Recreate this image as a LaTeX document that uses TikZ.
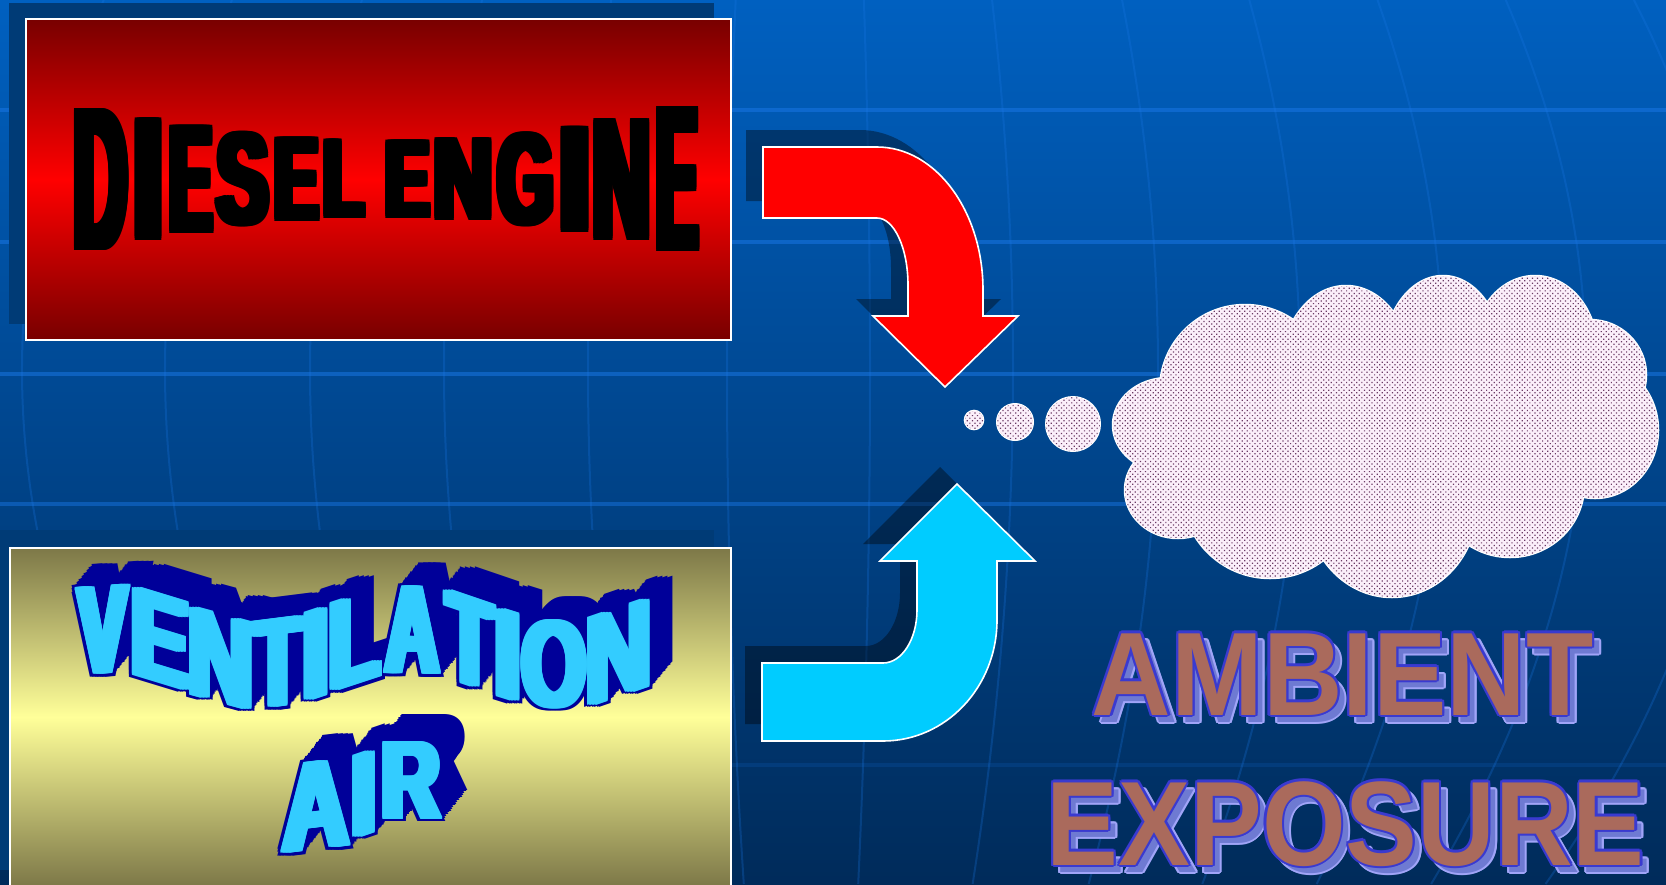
\documentclass[tikz,border=0pt]{standalone}
\usepackage{fontspec}
\usepackage{graphicx}
\usetikzlibrary{patterns.meta}
\newfontfamily\heavy{Liberation Sans}

\definecolor{bgtop}{HTML}{0060C0}
\definecolor{bgbot}{HTML}{002B5A}
\definecolor{gridblue}{HTML}{1A78E8}
\definecolor{boxshade}{HTML}{003B76}
\definecolor{redtop}{HTML}{780000}
\definecolor{olive}{HTML}{7D7848}
\definecolor{paleyellow}{HTML}{FFFF99}
\definecolor{ventcyan}{HTML}{33CCFF}
\definecolor{ventdark}{HTML}{000099}
\definecolor{arrowcyan}{HTML}{00CCFF}
\definecolor{puffbase}{HTML}{FBEFFA}
\definecolor{puffdot}{HTML}{6A3A64}
\definecolor{ambfill}{HTML}{AA6A5C}
\definecolor{ambedge}{HTML}{3A3AD0}
\definecolor{ambshade}{HTML}{6E7AD2}
\definecolor{ambshadeedge}{HTML}{A0A4F8}

% one resized glyph, centred at (x,y) and sheared by yslant
\newcommand\glyphfont{\heavy\bfseries\fontsize{100pt}{100pt}\selectfont}
\newcommand\gl[7]{%
  \begin{scope}[shift={({#2},{#3})},yslant=#4]
    \node[inner sep=0pt,outer sep=0pt,transform shape,#1] at (0,0)
      {\resizebox{#5pt}{#6pt}{\glyphfont #7}};
  \end{scope}}

% DIESEL ENGINE: x, y, box width, box height, letter
\newcommand\dieselword[1]{%
  #1{101}{179.4}{53.6}{138}{D}%
  #1{148.5}{179.3}{32}{118.6}{I}%
  #1{190.5}{179.2}{42}{104.2}{E}%
  #1{242.5}{179.1}{51.7}{90.2}{S}%
  #1{297}{179}{43.2}{80.3}{E}%
  #1{344}{179}{39.8}{75.4}{L}%
  #1{408}{179}{43.2}{74.4}{E}%
  #1{463}{179}{58.8}{78.7}{N}%
  #1{526}{179.1}{55.7}{89.5}{G}%
  #1{574.5}{179.2}{36}{102.1}{I}%
  #1{621.5}{179.3}{57.5}{117.9}{N}%
  #1{677}{179.4}{40.7}{141}{E}}
% heavy strokes: the glyph stamped over a small rectangle of offsets
\newcommand\dbold[5]{%
  \foreach \dx in {-4.5,-3,-1.5,0,1.5,3,4.5}{\foreach \dy in {-2,0,2}{%
    \gl{text=black}{#1+\dx}{#2+\dy}{0}{#3}{#4}{#5}}}}

% VENTILATION / AIR: x, y, slant, box width, box height, letter
\newcommand\ventword[1]{%
  #1{102.8}{630.3}{0.069}{48.1}{86}{V}%
  #1{160.4}{638.1}{-0.305}{58.8}{86}{E}%
  #1{220.4}{658.1}{-0.271}{65.5}{86}{N}%
  #1{278.0}{662.9}{0.126}{46}{86}{T}%
  #1{316.4}{653.7}{0.330}{28}{86}{I}%
  #1{354.8}{640.3}{0.329}{51.6}{86}{L}%
  #1{412.4}{630.0}{-0.018}{52.9}{86}{A}%
  #1{470.0}{641.8}{-0.341}{46}{86}{T}%
  #1{508.4}{655.3}{-0.313}{28}{86}{I}%
  #1{554.0}{663.9}{-0.036}{64.3}{86}{O}%
  #1{618.8}{651.9}{0.343}{65.5}{86}{N}}
\newcommand\airword[1]{%
  #1{316}{806}{0.12}{66}{86}{A}%
  #1{364}{794}{0.34}{26}{80}{I}%
  #1{411}{780}{0}{58}{76}{R}}
\newcommand\extx{1.25}
\newcommand\exty{1.5}
% solid extrusion behind the letters
\newcommand\vext[6]{%
  \foreach \k in {1,...,16}{\foreach \dx in {-7.5,-2.5,2.5,7.5}{%
    \gl{text=ventdark}{#1+\extx*\k+\dx}{#2-\exty*\k}{#3}{#4}{#5}{#6}}}}
% dark edge round the letters
\newcommand\vedge[6]{%
  \foreach \dx in {-7.5,-5,-2.5,0,2.5,5,7.5}{\foreach \dy in {-3.5,0,3.5}{%
    \gl{text=ventdark}{#1+\dx}{#2+\dy}{#3}{#4}{#5}{#6}}}}
% cyan face
\newcommand\vface[6]{%
  \foreach \dx in {-4.5,-3,-1.5,0,1.5,3,4.5}{\foreach \dy in {-1,0,1}{%
    \gl{text=ventcyan}{#1+\dx}{#2+\dy}{#3}{#4}{#5}{#6}}}}

% arrow outlines
\newcommand\redarrow{(763,147) -- (877,147) .. controls (935.5,147) and (983,211) .. (983,290)
  -- (983,316) -- (1018,316) -- (945,387) -- (873,316) -- (908,316) -- (908,285)
  .. controls (908,248) and (894,218) .. (877,218) -- (763,218) -- cycle}
\newcommand\cyanarrow{(762,741) -- (883,741) .. controls (946,741) and (997,687) .. (997,620)
  -- (997,561) -- (1035,561) -- (957,484) -- (880,561) -- (917,561) -- (917,610)
  .. controls (917,639) and (902,663) .. (883,663) -- (762,663) -- cycle}

% cloud puffs
\newcommand\cloudpath{%
  (1390,430) ellipse [x radius=200pt,y radius=110pt]
  (1168,425) ellipse [x radius=55pt,y radius=47pt]
  (1178,490) ellipse [x radius=53pt,y radius=48pt]
  (1245,390) ellipse [x radius=85pt,y radius=85pt]
  (1346,370) ellipse [x radius=65pt,y radius=84pt]
  (1443,360) ellipse [x radius=60pt,y radius=84pt]
  (1535,350) ellipse [x radius=62pt,y radius=74pt]
  (1590,375) ellipse [x radius=56pt,y radius=55pt]
  (1595,430) ellipse [x radius=63pt,y radius=68pt]
  (1510,485) ellipse [x radius=74pt,y radius=72pt]
  (1392,505) ellipse [x radius=85pt,y radius=92pt]
  (1270,490) ellipse [x radius=88pt,y radius=88pt]}

\newcommand\ambword{\scalebox{0.928}[1]{AMBIENT}}
\newcommand\expword{\scalebox{0.897}[1]{EXPOSURE}}

\begin{document}
\begin{tikzpicture}[x=1pt,y=-1pt,
  gridh/.style={draw=gridblue,line width=3.2pt},
  gridv/.style={draw=gridblue,line width=2pt,opacity=0.25},
  shapeshadow/.style={fill=black,opacity=0.38},
  panel/.style={draw=white,line width=2pt,inner sep=0pt},
  arrowbody/.style={draw=white,line width=1.6pt},
  dotfill/.style={pattern={Dots[distance=3.6pt,radius=0.85pt,angle=45]},pattern color=puffdot},
  puff/.style={draw=white,line width=1pt,preaction={fill=puffbase},dotfill},
  ambA/.style={inner sep=0pt,anchor=base,font=\heavy\bfseries\fontsize{118.7pt}{118.7pt}\selectfont},
  ambB/.style={inner sep=0pt,anchor=base,font=\heavy\bfseries\fontsize{120pt}{120pt}\selectfont}]

\useasboundingbox (0,0) rectangle (1666,884);
\clip (0,0) rectangle (1666,884);

% background and globe grid
\shade[top color=bgtop,bottom color=bgbot] (0,0) rectangle (1666,884);
\foreach \yy/\op in {110/0.5,242/0.5,374/0.5,504/0.45,765/0.15}
  \draw[gridh,opacity=\op] (0,\yy) -- (1666,\yy);
\foreach \xe in {-121,22,165,310,444,588,727,870,1013,1158,1300,1443,1586,1729}
  \draw[gridv] plot[domain=0:884,samples=30,smooth,variable=\t]
    ({\xe-(\xe-811)*(0.000866*(\t-370))^2},\t);

% panels with their shadows
\fill[boxshade] (8.5,3) rectangle (714,324);
\fill[boxshade] (-8,530) rectangle (714,870);
\node[panel,minimum width=705.5pt,minimum height=321pt,
  top color=redtop,bottom color=redtop,middle color=red] (dieselbox) at (378.25,179.5) {};
\node[panel,minimum width=720.8pt,minimum height=338pt,
  top color=olive,bottom color=olive,middle color=paleyellow] (ventbox) at (370.1,717) {};

% DIESEL ENGINE
\dieselword\dbold

% VENTILATION AIR
\ventword\vext
\renewcommand\extx{1.375}\renewcommand\exty{1.75}
\airword\vext
\ventword\vedge
\airword\vedge
\ventword\vface
\airword\vface

% curved arrows
\fill[shapeshadow,shift={(-17,-17)}] \redarrow;
\fill[shapeshadow,shift={(-17,-17)}] \cyanarrow;
\filldraw[arrowbody,fill=red] \redarrow;
\filldraw[arrowbody,fill=arrowcyan] \cyanarrow;

% thought bubbles and cloud
\node[puff,circle,minimum size=19.6pt,inner sep=0pt] (b1) at (974,420) {};
\node[puff,circle,minimum size=37pt,inner sep=0pt] (b2) at (1015,422) {};
\node[puff,circle,minimum size=55pt,inner sep=0pt] (b3) at (1073,424) {};
\draw[white,line width=2.5pt] \cloudpath;
\fill[puffbase] \cloudpath;
\fill[dotfill] \cloudpath;

% AMBIENT EXPOSURE
\foreach \a in {0,30,...,330}
  \node[ambA,text=ambshadeedge] at ({1349.7+2*cos(\a)},{722+2*sin(\a)}) {\ambword};
\node[ambA,text=ambshade] at (1349.7,722) {\ambword};
\foreach \a in {0,30,...,330}
  \node[ambA,text=ambedge] at ({1342.7+2.2*cos(\a)},{715+2.2*sin(\a)}) {\ambword};
\node[ambA,text=ambfill] (ambient) at (1342.7,715) {\ambword};

\foreach \a in {0,30,...,330}
  \node[ambB,text=ambshadeedge] at ({1352.7+2*cos(\a)},{872+2*sin(\a)}) {\expword};
\node[ambB,text=ambshade] at (1352.7,872) {\expword};
\foreach \a in {0,30,...,330}
  \node[ambB,text=ambedge] at ({1345.7+2.2*cos(\a)},{865+2.2*sin(\a)}) {\expword};
\node[ambB,text=ambfill] (exposure) at (1345.7,865) {\expword};
\end{tikzpicture}
\end{document}
